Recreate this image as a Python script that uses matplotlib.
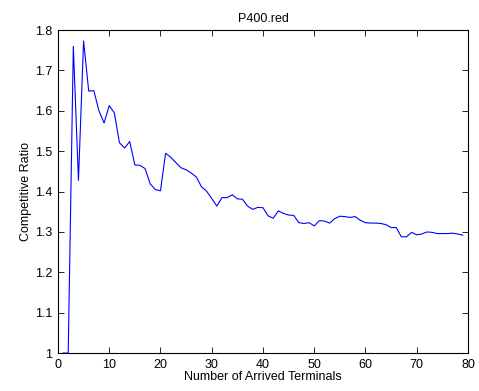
import matplotlib
matplotlib.use("Agg")
import matplotlib.pyplot as plt

# terminals arrived (x) and competitive ratio (y)
terminals = list(range(1, 80))
ratio = [
    1.000, 1.000, 1.760, 1.428, 1.773, 1.649, 1.650, 1.600, 1.570, 1.613,
    1.595, 1.521, 1.508, 1.524, 1.466, 1.465, 1.457, 1.419, 1.405, 1.402,
    1.495, 1.485, 1.472, 1.459, 1.454, 1.446, 1.436, 1.412, 1.401, 1.383,
    1.364, 1.385, 1.385, 1.392, 1.382, 1.381, 1.364, 1.356, 1.361, 1.360,
    1.340, 1.334, 1.352, 1.346, 1.342, 1.341, 1.323, 1.321, 1.323, 1.315,
    1.328, 1.327, 1.322, 1.333, 1.339, 1.338, 1.336, 1.338, 1.329, 1.323,
    1.322, 1.322, 1.321, 1.318, 1.311, 1.311, 1.288, 1.288, 1.299, 1.293,
    1.295, 1.300, 1.299, 1.296, 1.296, 1.296, 1.297, 1.295, 1.292,
]
x_ticks = [0, 10, 20, 30, 40, 50, 60, 70, 80]
y_ticks = [1, 1.1, 1.2, 1.3, 1.4, 1.5, 1.6, 1.7, 1.8]
y_labels = ["1", "1.1", "1.2", "1.3", "1.4", "1.5", "1.6", "1.7", "1.8"]

plt.rcParams["font.family"] = ["Liberation Sans", "DejaVu Sans"]
plt.rcParams["font.size"] = 9

fig = plt.figure(figsize=(4.79, 3.91), dpi=100)
ax = fig.add_axes([0.121, 0.097, 0.856, 0.826])
ax.plot(terminals, ratio, color="#0000ff", linewidth=0.8)

ax.set_xlim(0, 80)
ax.set_ylim(1, 1.8)
ax.set_xticks(x_ticks)
ax.set_yticks(y_ticks)
ax.set_yticklabels(y_labels)
ax.tick_params(direction="in", top=True, right=True, length=4, width=0.6, pad=4)
for s in ax.spines.values():
    s.set_linewidth(0.8)

ax.set_title("P400.red", fontsize=9, pad=6)
ax.set_xlabel("Number of Arrived Terminals", labelpad=0)
ax.set_ylabel("Competitive Ratio", labelpad=2)

fig.savefig("out.png", dpi=100)
